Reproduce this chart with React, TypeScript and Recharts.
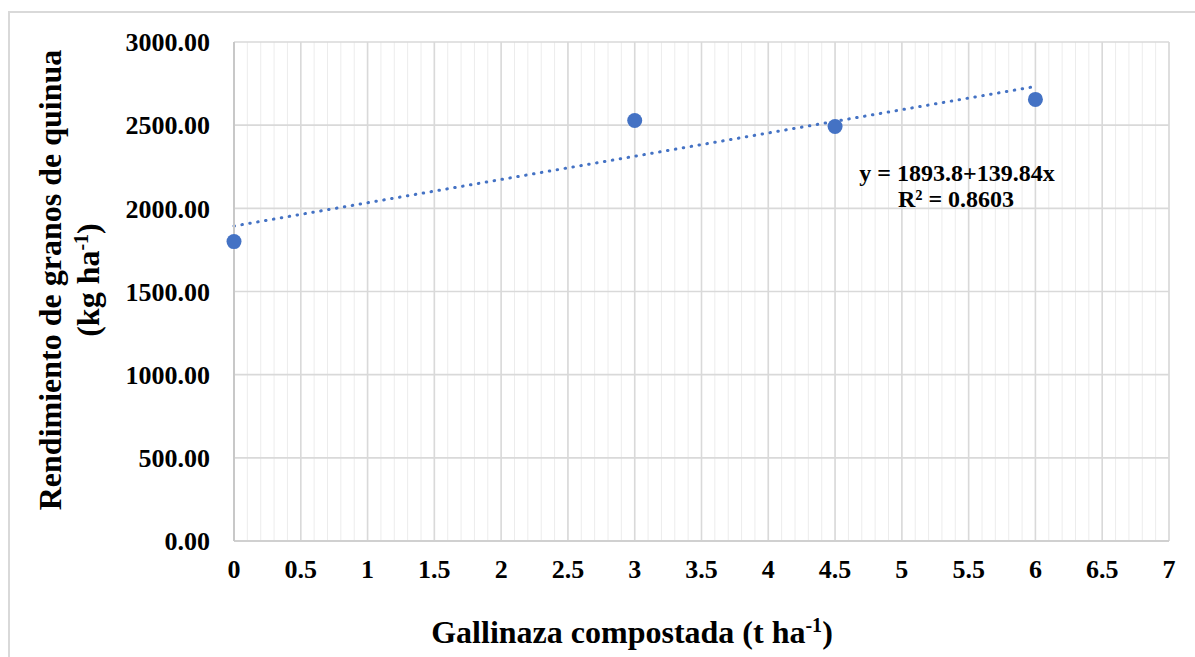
import React from "react";
import { ScatterChart, Scatter, XAxis, YAxis, CartesianGrid, ReferenceLine } from "recharts";

const doses = [0, 3, 4.5, 6];
const yields = [1800, 2528, 2492, 2655];
const xTicks = [0, 0.5, 1, 1.5, 2, 2.5, 3, 3.5, 4, 4.5, 5, 5.5, 6, 6.5, 7];
const xMinorTicks = Array.from({ length: 71 }, (_, i) => i / 10);
const xDomain = [0, 7];
const yTicks = [0, 500, 1000, 1500, 2000, 2500, 3000];
const trendIntercept = 1893.8;
const trendSlope = 139.84;
const trendFrom = 0;
const trendTo = 6;
const equationText = "y = 1893.8+139.84x";
const r2Text = "R² = 0.8603";

const points = doses.map((d, i) => ({ x: d, y: yields[i] }));

const FONT = '"Liberation Serif", "Times New Roman", serif';
const BLUE = "#4472C4";

const Dot = (props: any) => {
  const { cx, cy } = props;
  if (cx == null || cy == null) return null;
  return <circle cx={cx} cy={cy} r={7.5} fill={BLUE} />;
};

const minorGen = (args: any) => {
  const { xAxis, offset } = args || {};
  if (xAxis && typeof xAxis.scale === "function") {
    return xMinorTicks.map((v) => xAxis.scale(v));
  }
  const left = offset?.left ?? 234;
  const w = offset?.width ?? 935;
  return xMinorTicks.map((v) => left + ((v - xDomain[0]) / (xDomain[1] - xDomain[0])) * w);
};

export default function App() {
  return (
    <div
      style={{
        position: "fixed",
        left: 0,
        top: 0,
        width: 1195,
        height: 657,
        overflow: "hidden",
        background: "#fff",
      }}
    >
      <div
        style={{
          position: "absolute",
          left: 8,
          top: 11,
          width: 1400,
          height: 900,
          border: "2px solid #d9d9d9",
          boxSizing: "border-box",
        }}
      />
      <div style={{ position: "absolute", left: 0, top: 0 }}>
        <ScatterChart
          width={1195}
          height={657}
          margin={{ top: 42, right: 26, bottom: 76, left: 134 }}
        >
          <CartesianGrid
            horizontal={false}
            verticalCoordinatesGenerator={minorGen}
            stroke="#ececec"
            strokeWidth={1}
          />
          <CartesianGrid stroke="#d9d9d9" strokeWidth={1.6} />
          <XAxis
            type="number"
            dataKey="x"
            domain={xDomain}
            ticks={xTicks}
            interval={0}
            height={40}
            tickLine={false}
            tickSize={0}
            tickMargin={19}
            axisLine={{ stroke: "#d0d0d0", strokeWidth: 2 }}
            tick={{ fill: "#000", fontFamily: FONT, fontWeight: "bold", fontSize: 26 }}
          />
          <YAxis
            type="number"
            dataKey="y"
            domain={[0, 3000]}
            ticks={yTicks}
            interval={0}
            width={100}
            tickLine={false}
            tickSize={0}
            tickMargin={24}
            axisLine={{ stroke: "#c8c8c8", strokeWidth: 2 }}
            tickFormatter={(v: number) => v.toFixed(2)}
            tick={{ fill: "#000", fontFamily: FONT, fontWeight: "bold", fontSize: 26 }}
          />
          <ReferenceLine
            segment={[
              { x: trendFrom, y: trendIntercept + trendSlope * trendFrom },
              { x: trendTo, y: trendIntercept + trendSlope * trendTo },
            ]}
            stroke={BLUE}
            strokeWidth={3}
            strokeDasharray="0.5 7.5"
            strokeLinecap="round"
          />
          <Scatter data={points} fill={BLUE} shape={Dot} isAnimationActive={false} />
        </ScatterChart>
      </div>
      <svg
        width={1195}
        height={657}
        style={{ position: "absolute", left: 0, top: 0, pointerEvents: "none" }}
      >
        <g fontFamily={FONT} fontWeight="bold" fill="#000">
          <text
            transform="translate(61 280) rotate(-90)"
            textAnchor="middle"
            fontSize={32}
          >
            Rendimiento de granos de quinua
          </text>
          <text
            transform="translate(99 280) rotate(-90)"
            textAnchor="middle"
            fontSize={32}
          >
            (kg ha<tspan dy={-11} fontSize={20}>-1</tspan>
            <tspan dy={11}>)</tspan>
          </text>
          <text x={632} y={643} textAnchor="middle" fontSize={32}>
            Gallinaza compostada (t ha<tspan dy={-11} fontSize={20}>-1</tspan>
            <tspan dy={11}>)</tspan>
          </text>
          <text x={957} y={181} textAnchor="middle" fontSize={24}>
            {equationText}
          </text>
          <text x={956} y={207} textAnchor="middle" fontSize={24}>
            {r2Text}
          </text>
        </g>
      </svg>
    </div>
  );
}
